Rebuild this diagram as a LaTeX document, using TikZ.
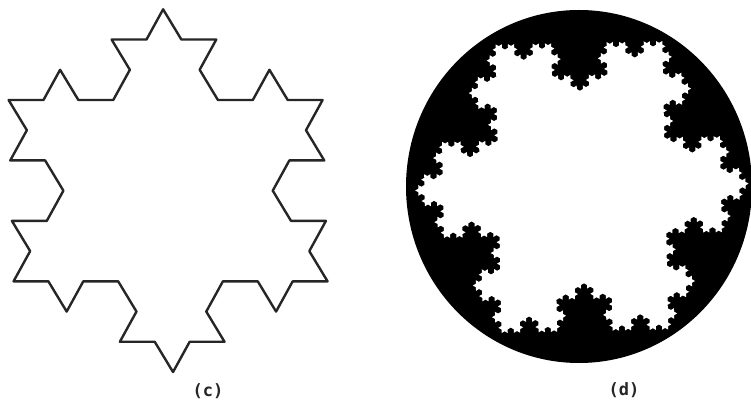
\documentclass[tikz,border=0pt]{standalone}
\usepackage{fontspec}
\newfontfamily\labfont{DejaVu Sans Mono}
\usetikzlibrary{lindenmayersystems}
\pgfdeclarelindenmayersystem{Koch}{\rule{F -> F-F++F-F}}
\tikzset{
  outline/.style={draw=black!85, line width=2.4pt, line join=round},
  lab/.style={font=\labfont\bfseries\fontsize{17}{19}\selectfont, text=black!85, inner sep=0pt}
}
\begin{document}
\begin{tikzpicture}[x=1pt,y=1pt]
\useasboundingbox (0,0) rectangle (751,404);
\fill[white] (0,0) rectangle (751,404);
% (c) level-2 Koch snowflake outline
\begin{scope}[shift={(168,213.3)}, xslant=-0.0275, shift={(-157,-90.65)}]
  \draw[outline, l-system={Koch, axiom=F++F++F, order=2, angle=60, step=34.9pt}]
    lindenmayer system -- cycle;
\end{scope}
% (d) disk with white snowflake
\fill[black] (579,217.5) ellipse [x radius=173, y radius=176.5];
\begin{scope}[shift={(582,217)}, rotate=-28.8, shift={(-144.5,-83.4)}]
  \fill[white, l-system={Koch, axiom=F++F++F, order=4, angle=60, step=3.568pt}]
    lindenmayer system -- cycle;
\end{scope}
\node[lab] (labc) at (208,13) {(c)};
\node[lab] (labd) at (624,14) {(d)};
\end{tikzpicture}
\end{document}
